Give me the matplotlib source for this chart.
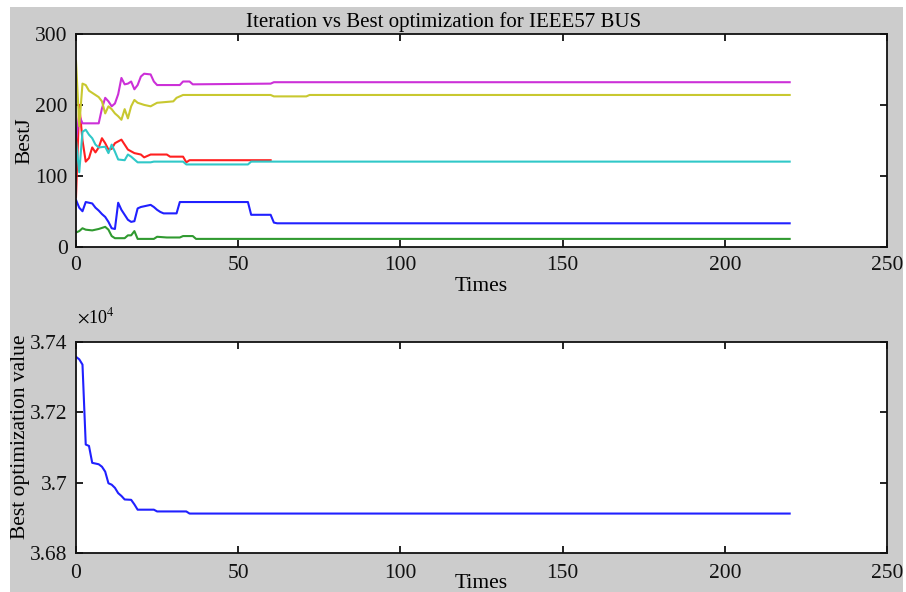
import numpy as np
import matplotlib.pyplot as plt
from matplotlib.patches import Rectangle
from matplotlib.ticker import FuncFormatter

plt.rcParams['font.family'] = ['Liberation Serif', 'DejaVu Serif']
plt.rcParams['mathtext.fontset'] = 'stix'

# BestJ per component (iteration breakpoints, values)
blue_x = [0, 1, 2, 3, 5, 6, 7, 8, 9, 10, 11, 12, 13, 14, 15, 16, 17, 18, 19, 20, 23, 24, 25, 26, 27, 31, 32, 53, 54, 60, 61, 62, 220]
blue_y = [66, 55, 50, 63, 61, 55, 51, 46, 42, 35, 26, 25, 62, 52, 45, 38, 35, 36, 54, 56, 59, 56, 52, 49, 47, 47, 63, 63, 45, 45, 34, 33, 33]

green_x = [0, 1, 2, 3, 5, 7, 9, 10, 11, 12, 15, 16, 17, 18, 19, 24, 25, 28, 32, 33, 36, 37, 220]
green_y = [20, 22, 26, 24, 23, 25, 28, 24, 15, 12, 12, 16, 16, 22, 11, 11, 14, 13, 13, 15, 15, 11, 11]

red_x = [0, 1, 2, 3, 4, 5, 6, 7, 8, 9, 10, 11, 12, 14, 15, 16, 18, 20, 21, 23, 28, 29, 33, 34, 35, 60]
red_y = [70, 200, 150, 120, 125, 140, 133, 140, 153, 146, 137, 138, 146, 151, 144, 137, 132, 130, 126, 130, 130, 127, 127, 119, 122, 122]

cyan_x = [0, 1, 2, 3, 4, 5, 6, 7, 9, 10, 11, 12, 13, 15, 16, 17, 19, 23, 24, 33, 34, 53, 54, 220]
cyan_y = [150, 105, 162, 165, 158, 153, 144, 140, 141, 132, 144, 134, 123, 122, 130, 127, 119, 119, 120, 120, 116, 116, 120, 120]

magenta_x = [0, 1, 2, 7, 8, 9, 10, 11, 12, 13, 14, 15, 16, 17, 18, 19, 20, 21, 23, 24, 25, 32, 33, 35, 36, 60, 61, 220]
magenta_y = [150, 185, 174, 174, 195, 210, 205, 198, 202, 215, 238, 229, 230, 233, 222, 228, 240, 244, 243, 233, 228, 228, 233, 233, 229, 230, 232, 232]

yellow_x = [0, 1, 2, 3, 4, 5, 6, 7, 8, 9, 10, 11, 12, 13, 14, 15, 16, 17, 18, 19, 21, 23, 25, 30, 31, 33, 60, 61, 71, 72, 220]
yellow_y = [262, 170, 230, 228, 220, 217, 214, 211, 205, 188, 198, 194, 188, 184, 179, 194, 181, 198, 207, 203, 200, 198, 203, 205, 210, 214, 214, 212, 212, 214, 214]

# best optimization value
best_x = [0, 1, 2, 3, 4, 5, 7, 8, 9, 10, 11, 12, 13, 14, 15, 17, 18, 19, 24, 25, 34, 35, 220]
best_y = [37357, 37350, 37335, 37108, 37104, 37056, 37052, 37045, 37031, 36998, 36994, 36985, 36970, 36962, 36952, 36951, 36938, 36923, 36923, 36918, 36918, 36912, 36912]

W, H = 906, 592
fig = plt.figure(figsize=(W / 100, H / 100), dpi=100)
fig.patch.set_facecolor('white')
fig.add_artist(Rectangle((10 / W, 0), 893 / W, 1 - 7 / H, transform=fig.transFigure,
                         facecolor='#cccccc', edgecolor='none', zorder=-10))

ax1 = fig.add_axes([76 / W, 1 - 246.7 / H, 811 / W, 212.7 / H])
ax2 = fig.add_axes([76 / W, 1 - 553 / H, 811 / W, 211.3 / H])

lw = 1.5
ax1.plot(blue_x, blue_y, color='#2020ff', lw=lw)
ax1.plot(green_x, green_y, color='#309a30', lw=lw)
ax1.plot(red_x, red_y, color='#ff2020', lw=lw)
ax1.plot(cyan_x, cyan_y, color='#30c8c8', lw=lw)
ax1.plot(magenta_x, magenta_y, color='#cc30d8', lw=lw)
ax1.plot(yellow_x, yellow_y, color='#c8c830', lw=lw)
ax1.set_xlim(0, 250)
ax1.set_ylim(0, 300)
ax1.set_xticks([0, 50, 100, 150, 200, 250])
ax1.set_yticks([0, 100, 200, 300])

ax2.plot(best_x, best_y, color='#2020ff', lw=lw)
ax2.set_xlim(0, 250)
ax2.set_ylim(36800, 37400)
ax2.set_xticks([0, 50, 100, 150, 200, 250])
ax2.set_yticks([36800, 37000, 37200, 37400])
ax2.yaxis.set_major_formatter(FuncFormatter(lambda v, _: f'{v / 1e4:g}'))

for ax in (ax1, ax2):
    ax.set_facecolor('white')
    for s in ax.spines.values():
        s.set_linewidth(1.3)
        s.set_color('#111111')
    ax.tick_params(direction='in', length=5, width=1.3, top=True, right=True,
                   labelsize=15.5, colors='#111111')
    ax.tick_params(axis='y', pad=6)
ax1.tick_params(axis='x', pad=6.5)
ax2.tick_params(axis='x', pad=8)

ax1.set_xlabel('Times', fontsize=15.5)
ax1.xaxis.label.set_va('baseline')
ax1.xaxis.set_label_coords(0.5, -44.3 / 212.7)
ax1.set_ylabel('BestJ', fontsize=15.5)
ax1.yaxis.label.set_va('center')
ax1.yaxis.set_label_coords(-51 / 811, 0.5)

ax2.set_xlabel('Times', fontsize=15.5)
ax2.xaxis.label.set_va('baseline')
ax2.xaxis.set_label_coords(0.5, -35 / 211.3)
ax2.set_ylabel('Best optimization value', fontsize=15.5)
ax2.yaxis.label.set_va('center')
ax2.yaxis.set_label_coords(-55 / 811, 0.55)

fig.text(77 / W, 1 - 323 / H, r'$\times$10$^{4}$', fontsize=13, ha='left', va='baseline')
fig.text(443.5 / W, 1 - 26.7 / H, 'Iteration vs Best optimization for IEEE57 BUS',
         fontsize=15, ha='center', va='baseline')

fig.savefig('out.png', dpi=100)
